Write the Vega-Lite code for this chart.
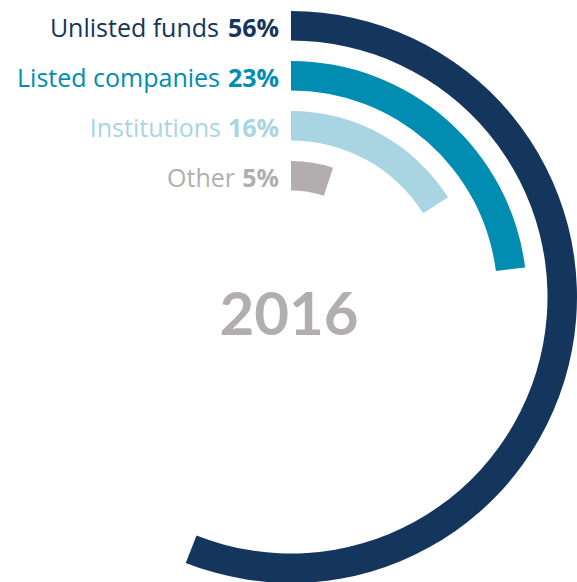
{
  "$schema": "https://vega.github.io/schema/vega-lite/v6.json",
  "width": 572,
  "height": 570,
  "padding": {"left": 5, "top": 12, "right": 0, "bottom": 0},
  "autosize": {"type": "none"},
  "background": "white",
  "config": {"view": {"stroke": null}},
  "datasets": {
    "shares": [
      {"category": "Unlisted funds", "share": 0.56},
      {"category": "Listed companies", "share": 0.23},
      {"category": "Institutions", "share": 0.16},
      {"category": "Other", "share": 0.05}
    ],
    "year": [{"label": "2016"}]
  },
  "layer": [
    {
      "data": {"name": "shares"},
      "mark": {"type": "arc", "radius2Offset": -29.5},
      "encoding": {
        "theta": {"field": "share", "type": "quantitative", "stack": null, "scale": {"domain": [0, 1], "range": [0, 6.283185307179586]}},
        "theta2": {"datum": 0},
        "radius": {"field": "category", "type": "ordinal", "scale": {"type": "point", "domain": ["Other", "Institutions", "Listed companies", "Unlisted funds"], "range": [136, 286], "padding": 0}},
        "radius2": {"field": "category"},
        "color": {"field": "category", "type": "nominal", "legend": null, "scale": {"domain": ["Unlisted funds", "Listed companies", "Institutions", "Other"], "range": ["#14365c", "#008db1", "#a9d5e2", "#b2aeaf"]}}
      }
    },
    {
      "data": {"name": "shares"},
      "mark": {"type": "text", "align": "right", "baseline": "alphabetic", "dx": -12, "radiusOffset": -25.5, "font": "Open Sans", "fontSize": 25, "fontWeight": "bold"},
      "encoding": {
        "theta": {"value": 0},
        "radius": {"field": "category", "type": "ordinal"},
        "text": {"field": "share", "type": "quantitative", "format": ".0%"},
        "color": {"field": "category", "type": "nominal", "legend": null}
      }
    },
    {
      "data": {"name": "shares"},
      "mark": {"type": "text", "align": "right", "baseline": "alphabetic", "dx": {"expr": "datum.share < 0.1 ? -56 : (datum.share < 0.2 ? -70 : (datum.share < 0.3 ? -71 : -72))"}, "radiusOffset": -25.5, "font": "Open Sans", "fontSize": 25, "fontWeight": "normal"},
      "encoding": {
        "theta": {"value": 0},
        "radius": {"field": "category", "type": "ordinal"},
        "text": {"field": "category", "type": "nominal"},
        "color": {"field": "category", "type": "nominal", "legend": null}
      }
    },
    {
      "data": {"name": "year"},
      "mark": {"type": "text", "align": "center", "baseline": "alphabetic", "dy": 38, "dx": -2, "font": "Lato", "fontSize": 60, "fontWeight": "bold", "color": "#b2aeaf"},
      "encoding": {
        "text": {"field": "label", "type": "nominal"}
      }
    }
  ]
}
